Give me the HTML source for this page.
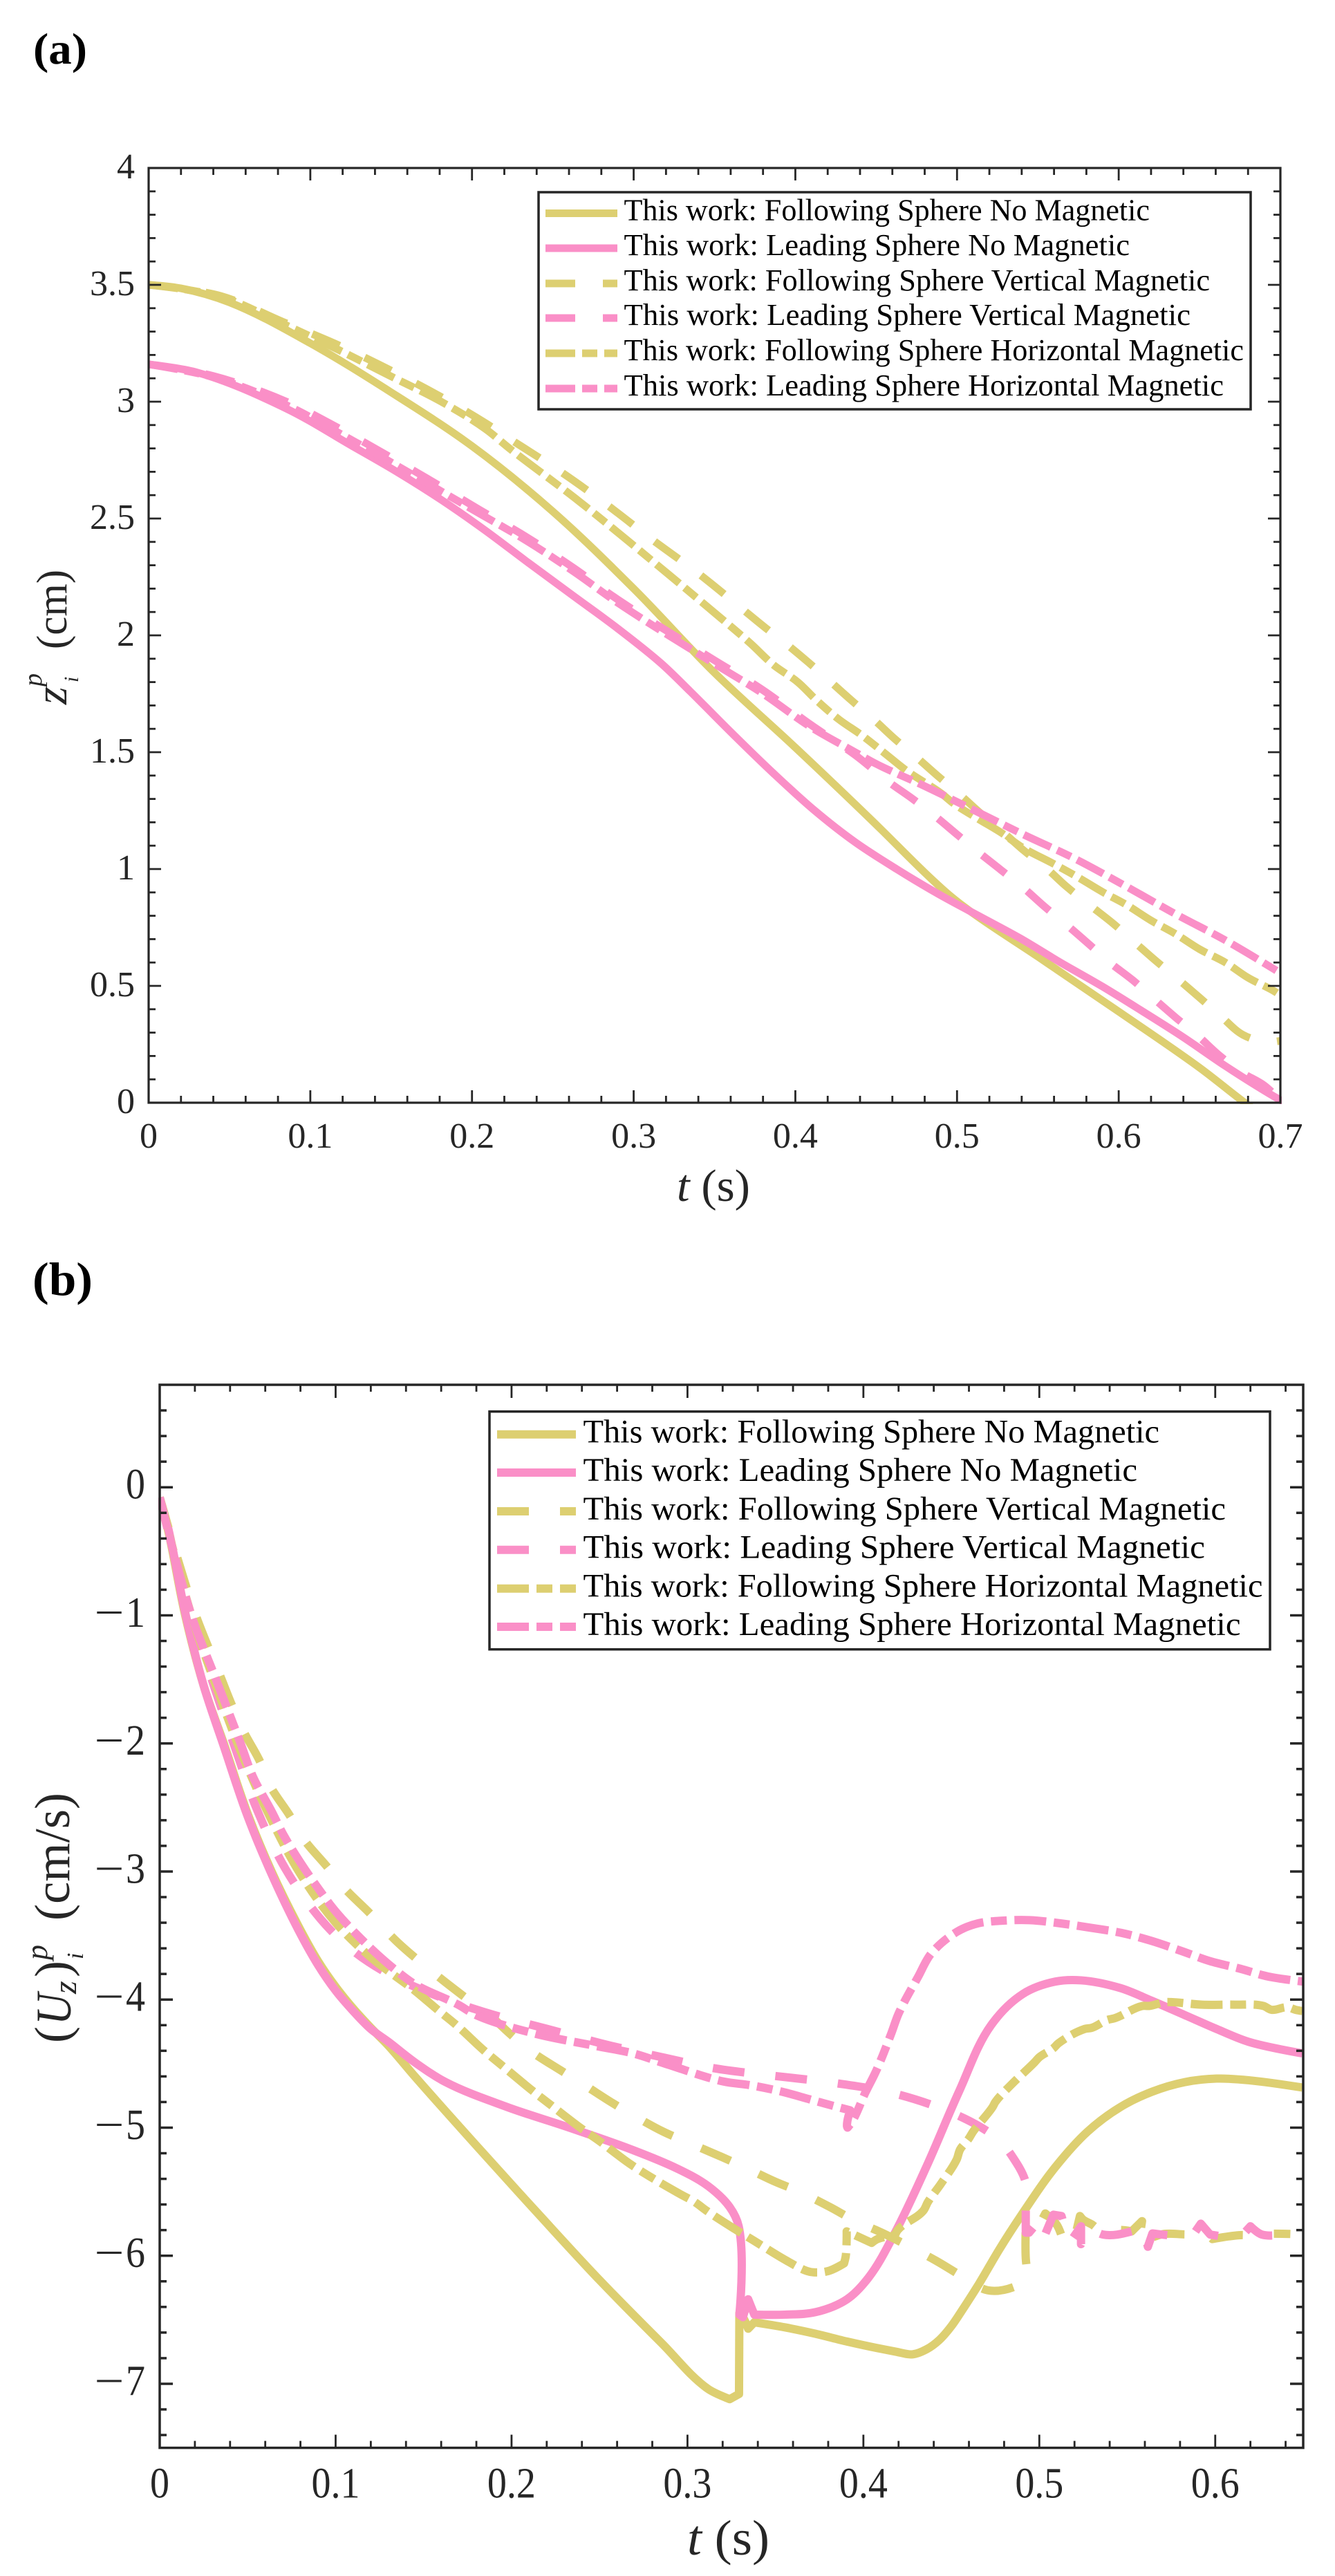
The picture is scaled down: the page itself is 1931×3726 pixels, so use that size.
<!DOCTYPE html>
<html lang="en">
<head>
<meta charset="utf-8">
<title>Sphere position and velocity charts</title>
<style>
html,body{margin:0;padding:0;background:#fff;}
svg{display:block;position:absolute;left:0;top:0;}
text{font-family:"Liberation Serif",serif;}
</style>
</head>
<body>
<svg id="figure" xmlns="http://www.w3.org/2000/svg" width="1931" height="3726" viewBox="0 0 1931 3726">
  <rect x="0" y="0" width="1931" height="3726" fill="#fff"/>
  <defs>
    <clipPath id="clipA"><rect x="213" y="243" width="1641" height="1354"/></clipPath>
    <clipPath id="clipB"><rect x="229" y="2003" width="1658" height="1539"/></clipPath>
  </defs>

  <text x="48" y="92" font-size="64" font-weight="bold" textLength="78" lengthAdjust="spacingAndGlyphs" fill="#000">(a)</text>
  <text x="47" y="1873" font-size="68" font-weight="bold" textLength="87" lengthAdjust="spacingAndGlyphs" fill="#000">(b)</text>

  <g id="plotA"></g>
  <g id="plotB"></g>

  <!-- axis titles panel a -->
  <g fill="#262626">
    <text transform="translate(96,1019) rotate(-90)" font-size="66" font-style="italic">z</text>
    <text transform="translate(60,993) rotate(-90)" font-size="38" font-style="italic">p</text>
    <text transform="translate(113,987) rotate(-90)" font-size="30" font-style="italic">i</text>
    <text transform="translate(96,939) rotate(-90)" font-size="62" textLength="115" lengthAdjust="spacingAndGlyphs">(cm)</text>
  </g>
  <text x="979" y="1737" font-size="66" fill="#262626" textLength="106" lengthAdjust="spacingAndGlyphs" xml:space="preserve"><tspan font-style="italic">t</tspan> (s)</text>

  <!-- axis titles panel b -->
  <g fill="#262626">
    <text transform="translate(100,2955) rotate(-90)" font-size="72">(</text>
    <text transform="translate(102,2929) rotate(-90)" font-size="72" font-style="italic" textLength="46" lengthAdjust="spacingAndGlyphs">U</text>
    <text transform="translate(110,2884) rotate(-90)" font-size="48" font-style="italic">z</text>
    <text transform="translate(100,2860) rotate(-90)" font-size="72">)</text>
    <text transform="translate(68,2835) rotate(-90)" font-size="44" font-style="italic">p</text>
    <text transform="translate(120,2834) rotate(-90)" font-size="34" font-style="italic">i</text>
    <text transform="translate(100,2778) rotate(-90)" font-size="72" textLength="185" lengthAdjust="spacingAndGlyphs">(cm/s)</text>
  </g>
  <text x="994" y="3695" font-size="72" fill="#262626" textLength="119" lengthAdjust="spacingAndGlyphs" xml:space="preserve"><tspan font-style="italic">t</tspan> (s)</text>

  <!-- legend panel a -->
  <g>
    <rect x="779" y="278" width="1030" height="314" fill="#fff" stroke="#262626" stroke-width="3.5"/>
    <g stroke-width="11" fill="none">
      <line x1="789" x2="893" y1="308.5" y2="308.5" stroke="#DDCF71"/>
      <line x1="789" x2="893" y1="359" y2="359" stroke="#FA8FC7"/>
      <line x1="789" x2="893" y1="410" y2="410" stroke="#DDCF71" stroke-dasharray="43 40"/>
      <line x1="789" x2="893" y1="460" y2="460" stroke="#FA8FC7" stroke-dasharray="43 40"/>
      <line x1="789" x2="893" y1="511" y2="511" stroke="#DDCF71" stroke-dasharray="43 10 22 10"/>
      <line x1="789" x2="893" y1="562" y2="562" stroke="#FA8FC7" stroke-dasharray="43 10 22 10"/>
    </g>
    <g font-size="44" fill="#000" xml:space="preserve">
      <text x="902.5" y="318.5" textLength="760.5" lengthAdjust="spacingAndGlyphs">This work: Following Sphere No Magnetic</text>
      <text x="902.5" y="369" textLength="731.5" lengthAdjust="spacingAndGlyphs">This work: Leading Sphere No Magnetic</text>
      <text x="902.5" y="420" textLength="847.5" lengthAdjust="spacingAndGlyphs">This work: Following Sphere Vertical Magnetic</text>
      <text x="902.5" y="470" textLength="819.5" lengthAdjust="spacingAndGlyphs">This work: Leading Sphere Vertical Magnetic</text>
      <text x="902.5" y="521" textLength="896.5" lengthAdjust="spacingAndGlyphs">This work: Following Sphere Horizontal Magnetic</text>
      <text x="902.5" y="572" textLength="867.5" lengthAdjust="spacingAndGlyphs">This work: Leading Sphere Horizontal Magnetic</text>
    </g>
  </g>

  <!-- legend panel b -->
  <g>
    <rect x="708" y="2041.7" width="1129" height="344" fill="#fff" stroke="#262626" stroke-width="3.5"/>
    <g stroke-width="12" fill="none">
      <line x1="719" x2="833" y1="2074.7" y2="2074.7" stroke="#DDCF71"/>
      <line x1="719" x2="833" y1="2130" y2="2130" stroke="#FA8FC7"/>
      <line x1="719" x2="833" y1="2186" y2="2186" stroke="#DDCF71" stroke-dasharray="46 45"/>
      <line x1="719" x2="833" y1="2241.7" y2="2241.7" stroke="#FA8FC7" stroke-dasharray="46 45"/>
      <line x1="719" x2="833" y1="2297.7" y2="2297.7" stroke="#DDCF71" stroke-dasharray="46 11 23 11"/>
      <line x1="719" x2="833" y1="2353" y2="2353" stroke="#FA8FC7" stroke-dasharray="46 11 23 11"/>
    </g>
    <g font-size="48" fill="#000" xml:space="preserve">
      <text x="843.5" y="2086.7" textLength="833.5" lengthAdjust="spacingAndGlyphs">This work: Following Sphere No Magnetic</text>
      <text x="843.5" y="2142" textLength="801.5" lengthAdjust="spacingAndGlyphs">This work: Leading Sphere No Magnetic</text>
      <text x="843.5" y="2198" textLength="929.5" lengthAdjust="spacingAndGlyphs">This work: Following Sphere Vertical Magnetic</text>
      <text x="843.5" y="2253.7" textLength="899.5" lengthAdjust="spacingAndGlyphs">This work: Leading Sphere Vertical Magnetic</text>
      <text x="843.5" y="2309.7" textLength="983" lengthAdjust="spacingAndGlyphs">This work: Following Sphere Horizontal Magnetic</text>
      <text x="843.5" y="2365" textLength="951" lengthAdjust="spacingAndGlyphs">This work: Leading Sphere Horizontal Magnetic</text>
    </g>
  </g>
</svg>

<script>
// ---------- Panel (a) data: sphere height z (cm) versus time t (s) ----------
const aFollowNoneT = [0,.02,.05,.1,.15,.2,.25,.3,.35,.4,.45,.48,.495,.51,.55,.6,.65,.678,.684];
const aFollowNoneZ = [3.5,3.485,3.425,3.25,3.04,2.81,2.53,2.2,1.84,1.52,1.19,.985,.89,.81,.625,.39,.15,0,-.03];
const aLeadNoneT = [0,.03,.0853,.126,.1535,.181,.208,.235,.2625,.29,.317,.335,.361,.3864,.412,.437,.4626,.488,.5133,.539,.564,.59,.615,.64,.666,.699,.703];
const aLeadNoneZ = [3.16,3.125,2.97,2.81,2.70,2.58,2.45,2.31,2.17,2.03,1.88,1.76,1.58,1.41,1.25,1.115,1.0,.895,.80,.704,.60,.497,.39,.28,.157,.015,0];
const aFollowVertT = [0,.0444,.0826,.118,.148,.181,.208,.2258,.256,.284,.3114,.34,.3677,.381,.395,.408,.422,.4345,.4485,.461,.475,.4878,.502,.5147,.5286,.5412,.555,.5677,.582,.596,.6093,.6225,.6365,.65,.6632,.677,.692,.7];
const aFollowVertZ = [3.5,3.453,3.343,3.24,3.14,3.02,2.91,2.83,2.695,2.556,2.41,2.265,2.11,2.035,1.96,1.885,1.80,1.723,1.64,1.56,1.478,1.40,1.317,1.238,1.157,1.08,1.005,.925,.846,.77,.69,.61,.53,.45,.37,.29,.26,.265];
const aLeadVertT = [0,.04,.0853,.118,.14,.1726,.205,.2325,.2625,.29,.3484,.379,.409,.437,.4575,.473,.4865,.50,.5133,.527,.541,.554,.568,.582,.5945,.6086,.621,.635,.6484,.662,.676,.69,.70];
const aLeadVertZ = [3.16,3.11,3.0,2.885,2.80,2.67,2.536,2.426,2.29,2.154,1.90,1.77,1.62,1.488,1.374,1.298,1.226,1.148,1.072,.997,.92,.84,.76,.676,.60,.525,.45,.366,.29,.204,.13,.074,.01];
const aFollowHorzT = [0,.0444,.0826,.118,.148,.181,.208,.2241,.266,.32,.3477,.372,.3864,.4015,.413,.427,.441,.455,.469,.49,.498,.5135,.527,.541,.559,.574,.59,.605,.62,.635,.65,.666,.68,.696,.7];
const aFollowHorzZ = [3.5,3.45,3.335,3.22,3.115,3.0,2.885,2.795,2.575,2.27,2.11,1.967,1.874,1.80,1.723,1.64,1.573,1.497,1.42,1.325,1.28,1.213,1.157,1.09,1.025,.968,.902,.846,.78,.723,.657,.60,.535,.478,.46];
const aLeadHorzT = [0,.04,.0853,.118,.14,.1726,.205,.2325,.2625,.29,.3484,.379,.409,.437,.45,.479,.511,.541,.573,.6035,.635,.666,.696,.7];
const aLeadHorzZ = [3.16,3.105,2.985,2.865,2.78,2.65,2.52,2.41,2.275,2.14,1.885,1.755,1.61,1.50,1.45,1.358,1.25,1.148,1.044,.93,.808,.695,.572,.555];

// ---------- Panel (b) data: sphere velocity U (cm/s) versus time t (s) ----------
const bFollowNoneT = [0,.005,.0145,.025,.0364,.05,.0636,.0786,.09,.1,.11,.12,.13,.145,.18,.215,.25,.2855,.3117,.324,.3293,.3295,.3315,.3345,.338,.3556,.373,.3907,.4187,.428,.436,.443,.45,.4564,.4657,.4773,.489,.509,.5275,.546,.564,.5825,.6008,.619,.6495];
const bFollowNoneU = [-.08,-.35,-1,-1.55,-2,-2.55,-3,-3.42,-3.7,-3.9,-4.07,-4.22,-4.36,-4.6,-5.14,-5.67,-6.19,-6.685,-7.04,-7.12,-7.08,-6.45,-6.48,-6.57,-6.52,-6.56,-6.61,-6.67,-6.75,-6.77,-6.73,-6.66,-6.55,-6.42,-6.22,-5.95,-5.70,-5.31,-5.03,-4.84,-4.72,-4.645,-4.617,-4.63,-4.687];
const bLeadNoneT = [0,.005,.0145,.025,.0364,.05,.0636,.0786,.09,.1,.11,.12,.13,.145,.1626,.1977,.2328,.268,.2942,.3118,.324,.3291,.3295,.3315,.3345,.338,.3556,.373,.3907,.403,.4176,.436,.4543,.4726,.4908,.509,.5238,.546,.564,.5825,.6008,.619,.6495];
const bLeadNoneU = [-.08,-.33,-.98,-1.55,-2.02,-2.57,-3.02,-3.45,-3.73,-3.93,-4.09,-4.23,-4.33,-4.49,-4.645,-4.84,-5.0,-5.17,-5.32,-5.457,-5.62,-5.77,-6.46,-6.48,-6.34,-6.46,-6.46,-6.44,-6.34,-6.17,-5.83,-5.30,-4.72,-4.2,-3.955,-3.86,-3.85,-3.91,-4.01,-4.12,-4.23,-4.33,-4.42];
const bFollowVertT = [0,.01,.0205,.0346,.041,.0478,.0566,.0627,.074,.082,.095,.105,.119,.135,.1556,.1714,.189,.1985,.2107,.2276,.2406,.2565,.27,.286,.301,.318,.3326,.3495,.3635,.381,.3943,.412,.425,.4414,.456,.4707,.4863,.4936,.4923,.4923,.4985,.5034,.510,.5139,.5198,.5231,.525,.5303,.5368,.545,.5525,.5584,.5565,.5656,.5709,.5866,.5931,.5984,.6134,.622,.6272,.6427];
const bFollowVertU = [-.08,-.55,-1.0,-1.48,-1.70,-1.91,-2.13,-2.33,-2.565,-2.75,-2.96,-3.13,-3.32,-3.55,-3.79,-3.96,-4.14,-4.26,-4.40,-4.55,-4.66,-4.80,-4.91,-5.03,-5.12,-5.22,-5.31,-5.42,-5.50,-5.62,-5.72,-5.83,-5.92,-6.04,-6.16,-6.27,-6.24,-6.17,-6.02,-5.77,-5.80,-5.67,-5.76,-5.90,-5.88,-5.69,-5.72,-5.76,-5.84,-5.80,-5.81,-5.73,-5.90,-5.85,-5.83,-5.83,-5.80,-5.87,-5.84,-5.84,-5.83,-5.83];
const bLeadVertT = [0,.018,.032,.045,.0548,.0715,.0917,.11,.13,.1537,.1867,.2205,.2547,.2872,.3145,.3487,.383,.4166,.4496,.4707,.478,.4844,.4923,.4923,.4923,.4942,.5008,.5031,.508,.5126,.5172,.5237,.5237,.5283,.5362,.5525,.5591,.5617,.5643,.5696,.5866,.5918,.5971,.6134,.62,.6265,.6427];
const bLeadVertU = [-.08,-1.0,-1.6,-2.12,-2.5,-2.98,-3.375,-3.62,-3.8,-3.95,-4.107,-4.23,-4.355,-4.455,-4.535,-4.595,-4.65,-4.73,-4.88,-5.03,-5.11,-5.22,-5.43,-5.67,-5.82,-5.82,-5.71,-5.84,-5.68,-5.69,-5.90,-5.77,-5.91,-5.78,-5.835,-5.81,-5.77,-5.93,-5.826,-5.835,-5.853,-5.75,-5.835,-5.87,-5.77,-5.835,-5.826];
const bFollowHorzT = [0,.018,.032,.046,.0636,.08,.1,.12,.145,.158,.1687,.1845,.195,.2117,.222,.239,.2495,.267,.2784,.296,.304,.311,.3267,.338,.3565,.368,.3717,.38,.389,.39,.3905,.4047,.408,.418,.4195,.434,.4367,.444,.453,.455,.4597,.4624,.4734,.475,.4844,.4973,.5,.508,.511,.5257,.53,.5385,.543,.5586,.5623,.5715,.575,.5926,.611,.6274,.632,.641,.6457,.6495];
const bFollowHorzU = [-.08,-1,-1.55,-2.06,-2.6,-3.02,-3.4,-3.67,-3.93,-4.08,-4.2,-4.40,-4.52,-4.71,-4.82,-5.0,-5.10,-5.28,-5.38,-5.52,-5.58,-5.65,-5.79,-5.885,-6.04,-6.12,-6.13,-6.12,-6.06,-6.0,-5.81,-5.90,-5.87,-5.84,-5.80,-5.65,-5.58,-5.44,-5.25,-5.17,-5.09,-5.03,-4.84,-4.80,-4.66,-4.49,-4.45,-4.38,-4.34,-4.23,-4.22,-4.16,-4.145,-4.05,-4.05,-4.02,-4.02,-4.04,-4.04,-4.05,-4.08,-4.06,-4.08,-4.09];
const bLeadHorzT = [0,.018,.032,.046,.053,.0636,.0706,.08,.09,.1005,.12,.135,.145,.1696,.1796,.213,.2469,.269,.2872,.3205,.3363,.3538,.3697,.3855,.3925,.3907,.391,.3937,.401,.4075,.4157,.42,.4312,.4386,.4533,.4652,.478,.4945,.512,.5293,.5468,.5633,.5806,.597,.6144,.63,.65];
const bLeadHorzU = [-.08,-1,-1.5,-2.0,-2.26,-2.53,-2.72,-2.93,-3.13,-3.32,-3.6,-3.78,-3.88,-4.04,-4.12,-4.265,-4.36,-4.42,-4.50,-4.64,-4.67,-4.72,-4.78,-4.84,-4.865,-4.99,-5.0,-4.95,-4.73,-4.55,-4.27,-4.11,-3.82,-3.64,-3.47,-3.405,-3.385,-3.38,-3.405,-3.44,-3.48,-3.54,-3.62,-3.70,-3.76,-3.82,-3.86];

// ---------- Axis ticks ----------
const aXTickValues = [0,.1,.2,.3,.4,.5,.6,.7];
const aXTickLabels = ['0','0.1','0.2','0.3','0.4','0.5','0.6','0.7'];
const aYTickValues = [0,.5,1,1.5,2,2.5,3,3.5,4];
const aYTickLabels = ['0','0.5','1','1.5','2','2.5','3','3.5','4'];
const bXTickValues = [0,.1,.2,.3,.4,.5,.6];
const bXTickLabels = ['0','0.1','0.2','0.3','0.4','0.5','0.6'];
const bYTickValues = [0,-1,-2,-3,-4,-5,-6,-7];
const bYTickLabels = ['0','\u22121','\u22122','\u22123','\u22124','\u22125','\u22126','\u22127'];

const GOLD = '#DDCF71';
const PINK = '#FA8FC7';
const AXIS = '#262626';
const NS = 'http://www.w3.org/2000/svg';

function svgEl(tag, attrs, parent) {
  const el = document.createElementNS(NS, tag);
  for (const k in attrs) el.setAttribute(k, attrs[k]);
  parent.appendChild(el);
  return el;
}

function makeScales(p) {
  return {
    x: function (t) { return p.x0 + (t - p.tMin) / (p.tMax - p.tMin) * (p.x1 - p.x0); },
    y: function (v) { return p.y1 - (v - p.vMin) / (p.vMax - p.vMin) * (p.y1 - p.y0); }
  };
}

// Smooth path through the points; keeps real corners (jumps, spikes) sharp.
function smoothPath(pts) {
  const tan = pts.map(function () { return null; });
  for (let i = 1; i < pts.length - 1; i++) {
    const ax = pts[i][0] - pts[i - 1][0], ay = pts[i][1] - pts[i - 1][1];
    const bx = pts[i + 1][0] - pts[i][0], by = pts[i + 1][1] - pts[i][1];
    const la = Math.hypot(ax, ay), lb = Math.hypot(bx, by);
    if (la < 1e-6 || lb < 1e-6) continue;
    if ((ax * bx + ay * by) / (la * lb) < 0.77) continue;
    const ux = ax / la + bx / lb, uy = ay / la + by / lb;
    const lu = Math.hypot(ux, uy);
    tan[i] = [ux / lu, uy / lu];
  }
  let d = 'M' + pts[0][0].toFixed(2) + ' ' + pts[0][1].toFixed(2);
  for (let i = 1; i < pts.length; i++) {
    const p0 = pts[i - 1], p1 = pts[i];
    const len = Math.hypot(p1[0] - p0[0], p1[1] - p0[1]) / 3;
    const c0 = tan[i - 1] ? [p0[0] + tan[i - 1][0] * len, p0[1] + tan[i - 1][1] * len] : p0;
    const c1 = tan[i] ? [p1[0] - tan[i][0] * len, p1[1] - tan[i][1] * len] : p1;
    d += 'C' + c0[0].toFixed(2) + ' ' + c0[1].toFixed(2) + ' ' + c1[0].toFixed(2) + ' ' + c1[1].toFixed(2) + ' ' + p1[0].toFixed(2) + ' ' + p1[1].toFixed(2);
  }
  return d;
}

function drawSeries(p, s, ts, vs, color, dash, label) {
  const pts = ts.map(function (t, i) { return [s.x(t), s.y(vs[i])]; });
  const path = svgEl('path', {
    d: smoothPath(pts), fill: 'none', stroke: color, 'stroke-width': p.lineWidth,
    'stroke-linejoin': 'round', 'clip-path': 'url(#' + p.clip + ')'
  }, p.group);
  if (dash) path.setAttribute('stroke-dasharray', dash);
  
  
}

function drawAxes(p, s, xVals, xLabs, yVals, yLabs) {
  const frame = svgEl('rect', {
    x: p.x0, y: p.y0, width: p.x1 - p.x0, height: p.y1 - p.y0,
    fill: 'none', stroke: AXIS, 'stroke-width': p.axisWidth
  }, p.group);
  
  

  const nx = Math.round((p.tMax - p.tMin) / p.xMinor);
  for (let i = 1; i < nx + 1; i++) {
    const t = p.tMin + i * p.xMinor;
    if (t > p.tMax - 1e-6) break;
    const isMajor = i % 5 === 0;
    const len = isMajor ? p.majorLen : p.minorLen;
    const px = s.x(t);
    const b = svgEl('line', { x1: px, x2: px, y1: p.y1, y2: p.y1 - len, stroke: AXIS, 'stroke-width': p.tickWidth }, p.group);
    
    
    const tp = svgEl('line', { x1: px, x2: px, y1: p.y0, y2: p.y0 + len, stroke: AXIS, 'stroke-width': p.tickWidth }, p.group);
    
    
  }

  const iLow = Math.ceil(p.vMin / p.yMinor - 1e-6);
  const iHigh = Math.floor(p.vMax / p.yMinor + 1e-6);
  for (let i = iLow; i <= iHigh; i++) {
    const v = i * p.yMinor;
    if (Math.abs(v - p.vMin) < 1e-6 || Math.abs(v - p.vMax) < 1e-6) continue;
    const isMajor = Math.abs(i) % 5 === 0;
    const len = isMajor ? p.majorLen : p.minorLen;
    const py = s.y(v);
    const l = svgEl('line', { x1: p.x0, x2: p.x0 + len, y1: py, y2: py, stroke: AXIS, 'stroke-width': p.hTickWidth }, p.group);
    
    
    const r = svgEl('line', { x1: p.x1, x2: p.x1 - len, y1: py, y2: py, stroke: AXIS, 'stroke-width': p.hTickWidth }, p.group);
    
    
  }

  xVals.forEach(function (t, i) {
    const tx = svgEl('text', {
      transform: 'translate(' + s.x(t) + ',' + p.xLabelY + ') scale(1,' + p.textStretch + ')',
      'text-anchor': 'middle', 'font-size': p.tickFont, fill: AXIS
    }, p.group);
    tx.textContent = xLabs[i];
    
    
  });

  yVals.forEach(function (v, i) {
    const negative = yLabs[i].charAt(0) === '\u2212';
    const ty = svgEl('text', {
      transform: 'translate(' + p.yLabelX + ',' + (s.y(v) + p.yLabelDy) + ') scale(1,' + p.textStretch + ')',
      'text-anchor': 'end', 'font-size': p.tickFont, fill: AXIS
    }, p.group);
    ty.textContent = negative ? yLabs[i].slice(1) : yLabs[i];
    
    
    if (negative) {
      const minus = svgEl('text', {
        transform: 'translate(' + (p.yLabelX - 73.5) + ',' + (s.y(v) + p.yLabelDy) + ') scale(1,' + p.textStretch + ')',
        'font-size': p.tickFont, fill: AXIS, textLength: 43, lengthAdjust: 'spacingAndGlyphs'
      }, p.group);
      minus.textContent = '\u2212';
      
      
    }
  });
}

const panelA = {
  group: document.getElementById('plotA'), clip: 'clipA',
  x0: 215, x1: 1852, y0: 243, y1: 1595, tMin: 0, tMax: .7, vMin: 0, vMax: 4,
  xMinor: .02, yMinor: .1, majorLen: 18, minorLen: 10,
  axisWidth: 3.2, tickWidth: 2.8, hTickWidth: 2.8, lineWidth: 11,
  tickFont: 52, xLabelY: 1660, yLabelX: 195, yLabelDy: 15, textStretch: 1
};
const panelB = {
  group: document.getElementById('plotB'), clip: 'clipB',
  x0: 231, x1: 1885, y0: 2003, y1: 3540.6, tMin: 0, tMax: .65, vMin: -7.5, vMax: .8,
  xMinor: .02, yMinor: .2, majorLen: 19, minorLen: 10,
  axisWidth: 3.5, tickWidth: 2.8, hTickWidth: 3.5, lineWidth: 12,
  tickFont: 56, xLabelY: 3612.7, yLabelX: 210, yLabelDy: 16.5, textStretch: 1.11
};

const scaleA = makeScales(panelA);
const scaleB = makeScales(panelB);
const dashA = '43 40';
const dashDotA = '43 10 22 10';
const dashB = '46 45';
const dashDotB = '46 11 23 11';

drawSeries(panelA, scaleA, aFollowNoneT, aFollowNoneZ, GOLD, null, 'series-a-following-no-magnetic');
drawSeries(panelA, scaleA, aLeadNoneT, aLeadNoneZ, PINK, null, 'series-a-leading-no-magnetic');
drawSeries(panelA, scaleA, aFollowVertT, aFollowVertZ, GOLD, dashA, 'series-a-following-vertical-magnetic');
drawSeries(panelA, scaleA, aLeadVertT, aLeadVertZ, PINK, dashA, 'series-a-leading-vertical-magnetic');
drawSeries(panelA, scaleA, aFollowHorzT, aFollowHorzZ, GOLD, dashDotA, 'series-a-following-horizontal-magnetic');
drawSeries(panelA, scaleA, aLeadHorzT, aLeadHorzZ, PINK, dashDotA, 'series-a-leading-horizontal-magnetic');
drawAxes(panelA, scaleA, aXTickValues, aXTickLabels, aYTickValues, aYTickLabels);

drawSeries(panelB, scaleB, bFollowNoneT, bFollowNoneU, GOLD, null, 'series-b-following-no-magnetic');
drawSeries(panelB, scaleB, bLeadNoneT, bLeadNoneU, PINK, null, 'series-b-leading-no-magnetic');
drawSeries(panelB, scaleB, bFollowVertT, bFollowVertU, GOLD, dashB, 'series-b-following-vertical-magnetic');
drawSeries(panelB, scaleB, bLeadVertT, bLeadVertU, PINK, dashB, 'series-b-leading-vertical-magnetic');
drawSeries(panelB, scaleB, bFollowHorzT, bFollowHorzU, GOLD, dashDotB, 'series-b-following-horizontal-magnetic');
drawSeries(panelB, scaleB, bLeadHorzT, bLeadHorzU, PINK, dashDotB, 'series-b-leading-horizontal-magnetic');
drawAxes(panelB, scaleB, bXTickValues, bXTickLabels, bYTickValues, bYTickLabels);
</script>
</body>
</html>
